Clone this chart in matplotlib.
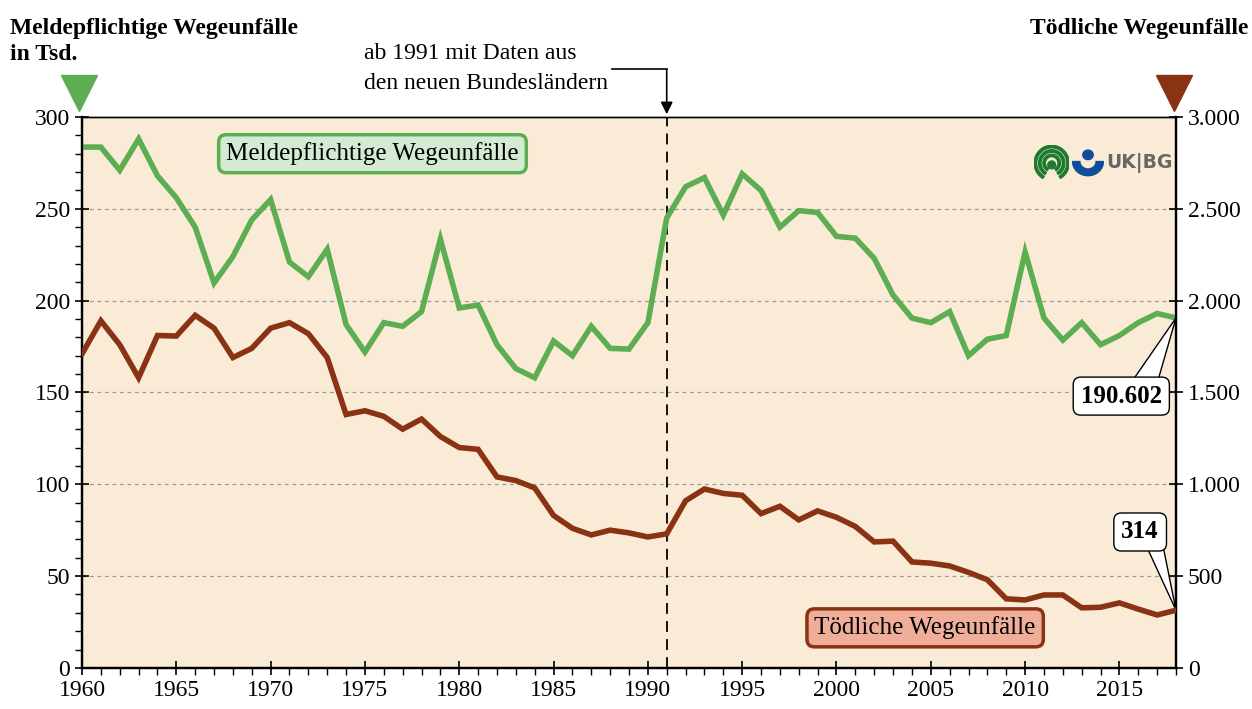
import matplotlib.pyplot as plt
from matplotlib.ticker import MultipleLocator, FuncFormatter
from matplotlib.patches import Circle, Wedge, Polygon

plt.rcParams['font.family'] = ['Liberation Serif', 'DejaVu Serif']

years = list(range(1960, 2019))
# meldepflichtige Wegeunfaelle in Tsd.
reportable = [283.6, 283.6, 271, 288, 268, 256, 240, 209.6, 224, 244,
              255, 221, 213, 228, 187, 172, 188, 186, 194, 233.5,
              196, 197.6, 176, 163, 158, 178, 170, 186, 174, 173.6,
              188, 245, 262, 267, 246.6, 269, 260, 240, 249, 248,
              235, 234, 223, 203, 190.5, 188, 194, 170, 179, 181,
              226.5, 190.5, 178.5, 188, 176, 181, 188, 193, 190.602]
# toedliche Wegeunfaelle
fatal = [1710, 1890, 1760, 1580, 1810, 1807, 1920, 1850, 1690, 1740,
         1850, 1880, 1820, 1690, 1380, 1400, 1370, 1300, 1355, 1260,
         1200, 1190, 1040, 1020, 980, 830, 760, 724, 750, 735,
         713, 730, 910, 974, 950, 940, 840, 880, 806, 855,
         820, 770, 686, 690, 577, 570, 555, 520, 480, 376,
         370, 397, 397, 327, 330, 354, 320, 288, 314]

green = '#5DAE52'
brown = '#8A3214'

fig = plt.figure(figsize=(12.52, 7.09), dpi=100)
ax = fig.add_axes([0.0655, 0.058, 0.8738, 0.777])
ax.set_facecolor('#FAEBD7')
ax2 = ax.twinx()

ax.plot(years, reportable, color=green, lw=4, solid_joinstyle='miter', zorder=3)
ax2.plot(years, fatal, color=brown, lw=4, solid_joinstyle='miter', zorder=3)

ax.set_xlim(1960, 2018)
ax.set_ylim(0, 300)
ax2.set_ylim(0, 3000)

ax.xaxis.set_major_locator(MultipleLocator(5))
ax.xaxis.set_minor_locator(MultipleLocator(1))
ax.yaxis.set_major_locator(MultipleLocator(50))
ax.yaxis.set_minor_locator(MultipleLocator(10))
ax2.yaxis.set_major_locator(MultipleLocator(500))
ax2.yaxis.set_major_formatter(FuncFormatter(lambda v, p: f'{int(v):,}'.replace(',', '.')))

ax.tick_params(axis='both', which='major', direction='inout', length=10, width=1.2, labelsize=17)
ax.tick_params(axis='both', which='minor', direction='out', length=5, width=1)
ax2.tick_params(axis='y', which='major', direction='inout', length=10, width=1.2, labelsize=17)

for y in [50, 100, 150, 200, 250]:
    ax.axhline(y, color='#999999', lw=0.9, ls=(0, (3, 3)), zorder=1)

for s in ['left', 'right', 'bottom']:
    ax.spines[s].set_linewidth(1.6)
    ax2.spines[s].set_linewidth(1.6)
ax.spines['top'].set_linewidth(1.0)
ax2.spines['top'].set_linewidth(1.0)

# 1991 marker
ax.axvline(1991, color='black', lw=1.3, ls=(0, (6, 4)), zorder=2)
fig.text(0.291, 0.924, 'ab 1991 mit Daten aus', fontsize=17, ha='left', va='center')
fig.text(0.291, 0.882, 'den neuen Bundesländern', fontsize=17, ha='left', va='center')
fig.add_artist(plt.Line2D([0.489, 0.5325], [0.902, 0.902], color='black', lw=1.2))
ax.annotate('', xy=(1991, 301.5), xycoords='data', xytext=(1991, 325.8),
            textcoords='data', annotation_clip=False,
            arrowprops=dict(arrowstyle='-|>', color='black', lw=1.2, mutation_scale=18,
                            shrinkA=0, shrinkB=0))

# labels in boxes
ax.text(1975.4, 280, 'Meldepflichtige Wegeunfälle', fontsize=18, ha='center', va='center', zorder=5,
        bbox=dict(boxstyle='round,pad=0.3,rounding_size=0.3', fc='#D4EAD2', ec=green, lw=2.5))
ax.text(2004.7, 21.8, 'Tödliche Wegeunfälle', fontsize=18, ha='center', va='center', zorder=5,
        bbox=dict(boxstyle='round,pad=0.3,rounding_size=0.3', fc='#EFAE9A', ec=brown, lw=2.5))

# end value callouts
ax.add_patch(Polygon([(2015.6, 155), (2017.0, 155), (2018, 190.602)], closed=True,
                     fc='white', ec='black', lw=1, zorder=5, clip_on=False))
ax.text(2015.1, 148, '190.602', fontsize=18, fontweight='bold', ha='center', va='center', zorder=6,
        bbox=dict(boxstyle='round,pad=0.3,rounding_size=0.3', fc='white', ec='black', lw=1))
ax.add_patch(Polygon([(2016.4, 67), (2017.3, 67), (2018, 31.4)], closed=True,
                     fc='white', ec='black', lw=1, zorder=5, clip_on=False))
ax.text(2016.1, 74, '314', fontsize=18, fontweight='bold', ha='center', va='center', zorder=6,
        bbox=dict(boxstyle='round,pad=0.3,rounding_size=0.3', fc='white', ec='black', lw=1))

# axis headers
fig.text(0.008, 0.942, 'Meldepflichtige Wegeunfälle\nin Tsd.', fontsize=17, fontweight='bold',
         ha='left', va='center', linespacing=1.3)
fig.text(0.997, 0.96, 'Tödliche Wegeunfälle', fontsize=17, fontweight='bold', ha='right', va='center')
ax.plot([-0.003], [1.043], marker='v', ms=26, color=green, transform=ax.transAxes, clip_on=False)
ax.plot([0.998], [1.043], marker='v', ms=26, color=brown, transform=ax.transAxes, clip_on=False)

# logo (simplified)
logo_ax = fig.add_axes([0.826, 0.745, 0.028, 0.05])
logo_ax.set_xlim(-1, 1)
logo_ax.set_ylim(-1, 1)
logo_ax.axis('off')
for r in [1.0, 0.75, 0.5]:
    logo_ax.add_patch(Wedge((0, 0), r, -60, 240, width=0.14, color='#1E7A2E'))
logo_ax.add_patch(Circle((0, -0.1), 0.22, color='#1E7A2E'))
logo_ax2 = fig.add_axes([0.856, 0.748, 0.026, 0.042])
logo_ax2.set_xlim(-1, 1)
logo_ax2.set_ylim(-1, 1)
logo_ax2.axis('off')
logo_ax2.add_patch(Wedge((0, 0.15), 0.95, 180, 360, width=0.45, color='#114C9A'))
logo_ax2.add_patch(Circle((0, 0.6), 0.32, color='#114C9A'))
fig.text(0.8835, 0.77, 'UK|BG', fontsize=13.5, fontweight='bold', color='#666666',
         family=['DejaVu Sans'], ha='left', va='center')

fig.savefig('out.png', dpi=100)
